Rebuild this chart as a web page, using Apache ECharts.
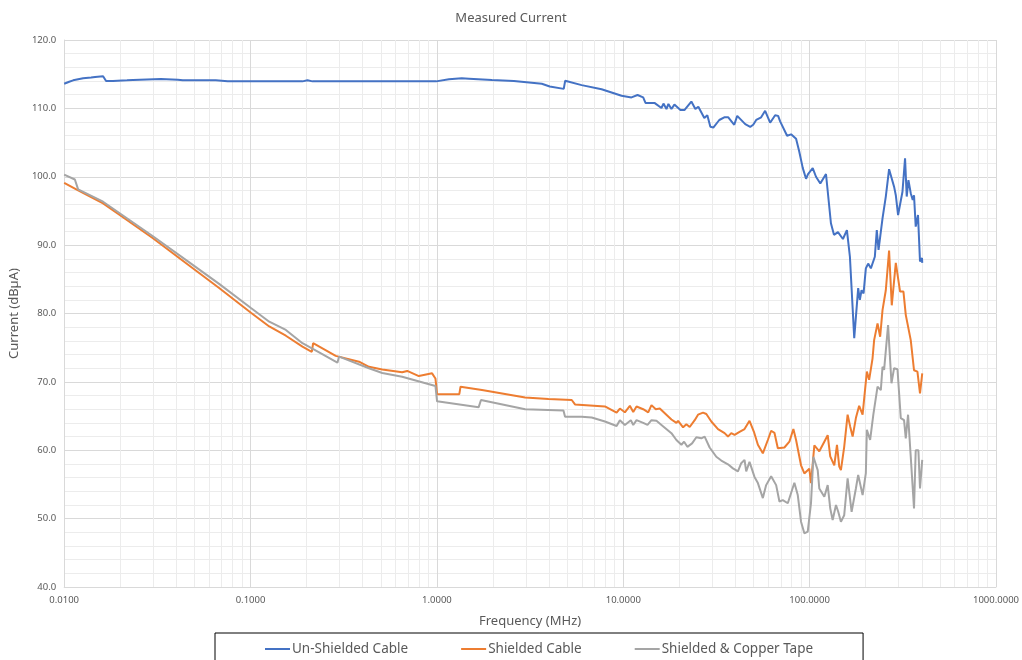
<!DOCTYPE html>
<html>
<head>
<meta charset="utf-8">
<script src="https://cdn.jsdelivr.net/npm/echarts@6.0.0/dist/echarts.min.js"></script>
<style>
html,body{margin:0;padding:0;background:#fff;}
#chart{width:1022px;height:660px;}
</style>
</head>
<body>
<div id="chart"></div>
<script>
// ---- Data (frequency in MHz, current in dBµA) ----
const seriesNames = ['Un-Shielded Cable', 'Shielded Cable', 'Shielded & Copper Tape'];

const freqUnshielded = [0.01,0.01064,0.01117,0.01264,0.01395,0.01465,0.01617,0.01637,0.01678,0.01828,0.02173,0.0234,0.0330,0.0407,0.0433,0.0651,0.0754,0.1,0.190,0.202,0.215,0.397,0.99,1.009,1.16,1.36,1.487,1.974,2.588,3.655,4.032,4.793,4.88,5.98,7.65,9.79,11.07,11.93,12.79,13.16,14.7,16.03,16.43,17.05,17.47,18.13,18.81,20.26,21.28,23.19,24.37,25.28,27.22,28.25,29.33,30.42,32.75,34.83,36.6,39.4,40.88,45.12,48.0,49.8,51.68,54.94,57.71,61.39,65.3,67.76,69.46,75.69,79.53,84.58,87.77,91.83,95.66,98.04,103.9,108.2,114.1,122.4,130.1,135.1,141.9,150.9,158.5,164.5,173.5,182.2,186.0,189.9,194.7,200.3,206.1,213.1,223.8,229.3,234.3,246.1,256.3,266.9,272.6,283.9,290.0,298.3,303.5,314.9,325.1,331.9,339.0,348.8,357.5,363.2,370.9,381.5,391.1,400.9,402];
const valUnshielded = [113.6,113.9,114.1,114.4,114.5,114.6,114.7,114.6,114.0,114.0,114.1,114.15,114.3,114.2,114.1,114.1,113.95,113.95,113.95,114.1,113.95,113.95,113.95,114.1,114.25,114.4,114.35,114.15,114.0,113.6,113.2,112.85,114.05,113.4,112.8,111.85,111.6,111.95,111.6,110.8,110.8,110.05,110.7,109.9,110.65,109.9,110.55,109.75,109.75,111.0,109.9,110.25,108.6,109.0,107.3,107.2,108.3,108.7,108.7,107.6,108.9,107.7,107.3,107.6,108.3,108.7,109.65,107.9,109.0,108.9,108.1,106.0,106.2,105.55,103.8,101.3,99.7,100.4,101.25,100.0,99.0,100.4,93.2,91.5,91.9,90.9,92.2,88.3,76.4,83.7,82.0,83.4,82.95,86.6,87.3,86.6,88.3,92.2,89.3,93.9,97.1,101.1,101.0,98.55,97.3,94.4,94.3,97.8,102.7,97.1,99.5,97.6,96.6,97.3,92.7,94.4,87.6,88.1,87.4];

const freqShielded = [0.01,0.01188,0.01617,0.01986,0.02994,0.04512,0.0681,0.1005,0.126,0.1547,0.1899,0.2131,0.2167,0.2864,0.382,0.432,0.509,0.651,0.693,0.800,0.942,0.982,1.002,1.319,1.339,1.745,2.976,3.969,5.29,5.507,7.972,9.21,9.59,10.2,10.85,11.31,11.78,12.79,13.61,14.17,14.94,15.7,18.13,19.28,19.69,20.94,21.81,22.72,24.17,25.19,26.79,27.91,29.68,32.23,34.97,36.46,37.97,39.55,42.07,44.74,47.58,50.24,52.77,56.10,59.67,62.16,64.74,67.51,73.21,77.88,81.81,84.58,89.93,93.67,99.6,101.7,106.0,112.7,119.9,125.0,129.0,135.6,140.2,144.2,147.2,153.3,159.9,165.1,170.1,177.1,184.4,192.4,202.8,208.6,217.6,221.9,231.4,239.0,246.1,251.0,256.3,266.9,275.9,290.0,305.7,318.7,328.0,335.0,348.8,363.2,378.8,391.1,402];
const valShielded = [99.1,98.0,96.1,94.4,91.0,87.35,83.7,80.1,78.1,76.75,75.15,74.4,75.65,73.8,72.95,72.2,71.8,71.4,71.6,70.85,71.25,70.5,68.2,68.2,69.3,68.8,67.7,67.5,67.35,66.7,66.4,65.5,66.1,65.55,66.5,65.6,66.4,66.0,65.55,66.6,66.0,66.1,64.5,64.0,64.3,63.35,63.8,63.4,64.4,65.2,65.5,65.3,64.2,63.1,62.5,62.0,62.5,62.25,62.7,63.1,64.3,62.7,60.8,59.55,61.5,62.85,62.55,60.3,60.4,61.25,63.1,61.5,57.8,56.6,57.3,55.2,60.7,59.85,61.25,62.2,59.1,57.8,60.8,57.6,57.1,60.5,65.2,63.45,62.0,64.7,66.5,65.2,71.5,70.3,73.45,76.1,78.55,76.6,80.5,80.75,83.4,89.2,81.2,87.4,83.2,83.2,79.8,79.55,76.1,71.7,71.5,68.3,71.25];

const freqTape = [0.01,0.01141,0.01188,0.01617,0.02994,0.04512,0.0681,0.1005,0.126,0.1547,0.1899,0.2334,0.2925,0.2987,0.432,0.509,0.651,0.982,1.002,1.676,1.724,2.976,4.776,4.871,5.98,6.77,7.972,9.21,9.59,10.2,10.98,11.31,11.78,12.79,13.49,14.17,15.07,16.03,18.13,19.28,20.51,21.2,22.08,23.4,24.67,26.24,27.33,29.07,31.57,33.57,36.46,38.77,41.24,42.95,44.74,45.68,47.58,50.61,52.77,56.10,58.44,62.16,66.12,68.86,71.78,76.35,82.83,86.37,89.93,93.67,97.68,101.7,104.7,110.5,112.7,119.9,125.0,129.0,132.9,138.5,142.4,147.2,153.3,159.9,168.0,177.1,182.2,192.4,200.3,202.8,211.2,219.7,231.4,241.0,246.1,251.0,263.6,274.9,283.9,296.1,308.4,321.1,328.0,337.4,348.8,363.2,370.9,383.4,391.1,402];
const valTape = [100.3,99.6,98.15,96.35,91.3,87.8,84.3,80.8,78.8,77.6,75.65,74.3,72.8,73.7,72.0,71.3,70.75,69.4,67.15,66.3,67.35,66.0,65.8,64.9,64.9,64.8,64.2,63.55,64.4,63.7,64.4,63.7,64.4,64.0,63.7,64.4,64.3,63.7,62.5,61.5,60.8,61.25,60.5,61.0,61.9,61.75,62.0,60.4,59.05,58.5,57.95,57.35,56.9,58.1,58.6,56.9,58.3,56.1,55.2,53.0,54.9,56.2,54.9,52.5,52.7,52.25,55.25,53.45,49.55,47.85,48.1,52.25,59.05,57.1,54.4,53.2,54.9,51.5,49.8,52.0,51.0,49.55,50.5,55.9,51.0,54.4,56.4,53.45,56.65,63.0,61.5,65.2,69.3,68.8,72.2,71.75,78.3,69.8,72.0,71.85,64.7,64.4,61.75,65.2,59.05,51.5,60.0,60.0,54.4,58.6];

// axis ticks
const decades = [0.01, 0.1, 1, 10, 100];
const minorMultipliers = [2,3,4,5,6,7,8,9];

// ---- Build options ----
const zip = (f, v) => f.map((x, i) => [x, v[i]]);
const minorX = [];
decades.forEach(d => minorMultipliers.forEach(m => minorX.push(+(d * m).toPrecision(6))));

const FONT = '"Noto Sans", "Open Sans", sans-serif';
const TXT = '#595959';

const chart = echarts.init(document.getElementById('chart'), null, {renderer: 'canvas'});
chart.setOption({
  animation: false,
  backgroundColor: '#ffffff',
  textStyle: {fontFamily: FONT},
  title: {
    text: 'Measured Current',
    left: 'center',
    top: 7,
    textStyle: {fontFamily: FONT, fontSize: 13, fontWeight: 'normal', color: TXT}
  },
  grid: {left: 61, top: 40, right: 26, bottom: 73, containLabel: false},
  legend: {
    data: seriesNames,
    left: 215,
    top: 633,
    padding: [9, 50, 20, 50],
    itemGap: 53,
    itemWidth: 25,
    itemHeight: 2,
    icon: 'rect',
    borderColor: '#000000',
    borderWidth: 1,
    textStyle: {fontFamily: FONT, fontSize: 13.5, color: TXT, padding: [0, 0, 0, -3]}
  },
  xAxis: {
    type: 'log',
    logBase: 10,
    min: 0.01,
    max: 1000,
    name: 'Frequency (MHz)',
    nameLocation: 'middle',
    nameGap: 28,
    nameTextStyle: {fontFamily: FONT, fontSize: 13, color: TXT},
    axisLine: {show: true, lineStyle: {color: '#d9d9d9'}},
    axisTick: {show: false},
    axisLabel: {
      fontFamily: FONT, fontSize: 9.5, color: TXT, margin: 8,
      showMinLabel: true, showMaxLabel: true,
      formatter: v => Number(v).toFixed(4)
    },
    splitLine: {show: true, lineStyle: {color: '#d9d9d9', width: 1}}
  },
  yAxis: {
    type: 'value',
    min: 40,
    max: 120,
    interval: 10,
    name: 'Current (dBµA)',
    nameLocation: 'middle',
    nameGap: 36,
    nameTextStyle: {fontFamily: FONT, fontSize: 13, color: TXT},
    axisLine: {show: true, lineStyle: {color: '#d9d9d9'}},
    axisTick: {show: false},
    axisLabel: {fontFamily: FONT, fontSize: 9.5, color: TXT, margin: 8, formatter: v => v.toFixed(1)},
    splitLine: {show: true, lineStyle: {color: '#d9d9d9', width: 1}},
    minorTick: {show: false, splitNumber: 5},
    minorSplitLine: {show: true, lineStyle: {color: '#ececec', width: 1}}
  },
  series: [
    {
      name: seriesNames[0], type: 'line', data: zip(freqUnshielded, valUnshielded),
      showSymbol: false, symbol: 'none', lineStyle: {color: '#4472C4', width: 2}, itemStyle: {color: '#4472C4'}, z: 3,
      markLine: {
        silent: true, symbol: 'none', z: 1, animation: false,
        label: {show: false},
        lineStyle: {color: '#ececec', width: 1, type: 'solid'},
        emphasis: {disabled: true},
        data: minorX.map(v => ({xAxis: v}))
      }
    },
    {
      name: seriesNames[1], type: 'line', data: zip(freqShielded, valShielded),
      showSymbol: false, symbol: 'none', lineStyle: {color: '#ED7D31', width: 2}, itemStyle: {color: '#ED7D31'}, z: 4
    },
    {
      name: seriesNames[2], type: 'line', data: zip(freqTape, valTape),
      showSymbol: false, symbol: 'none', lineStyle: {color: '#A5A5A5', width: 2}, itemStyle: {color: '#A5A5A5'}, z: 5
    }
  ]
});
</script>
</body>
</html>
